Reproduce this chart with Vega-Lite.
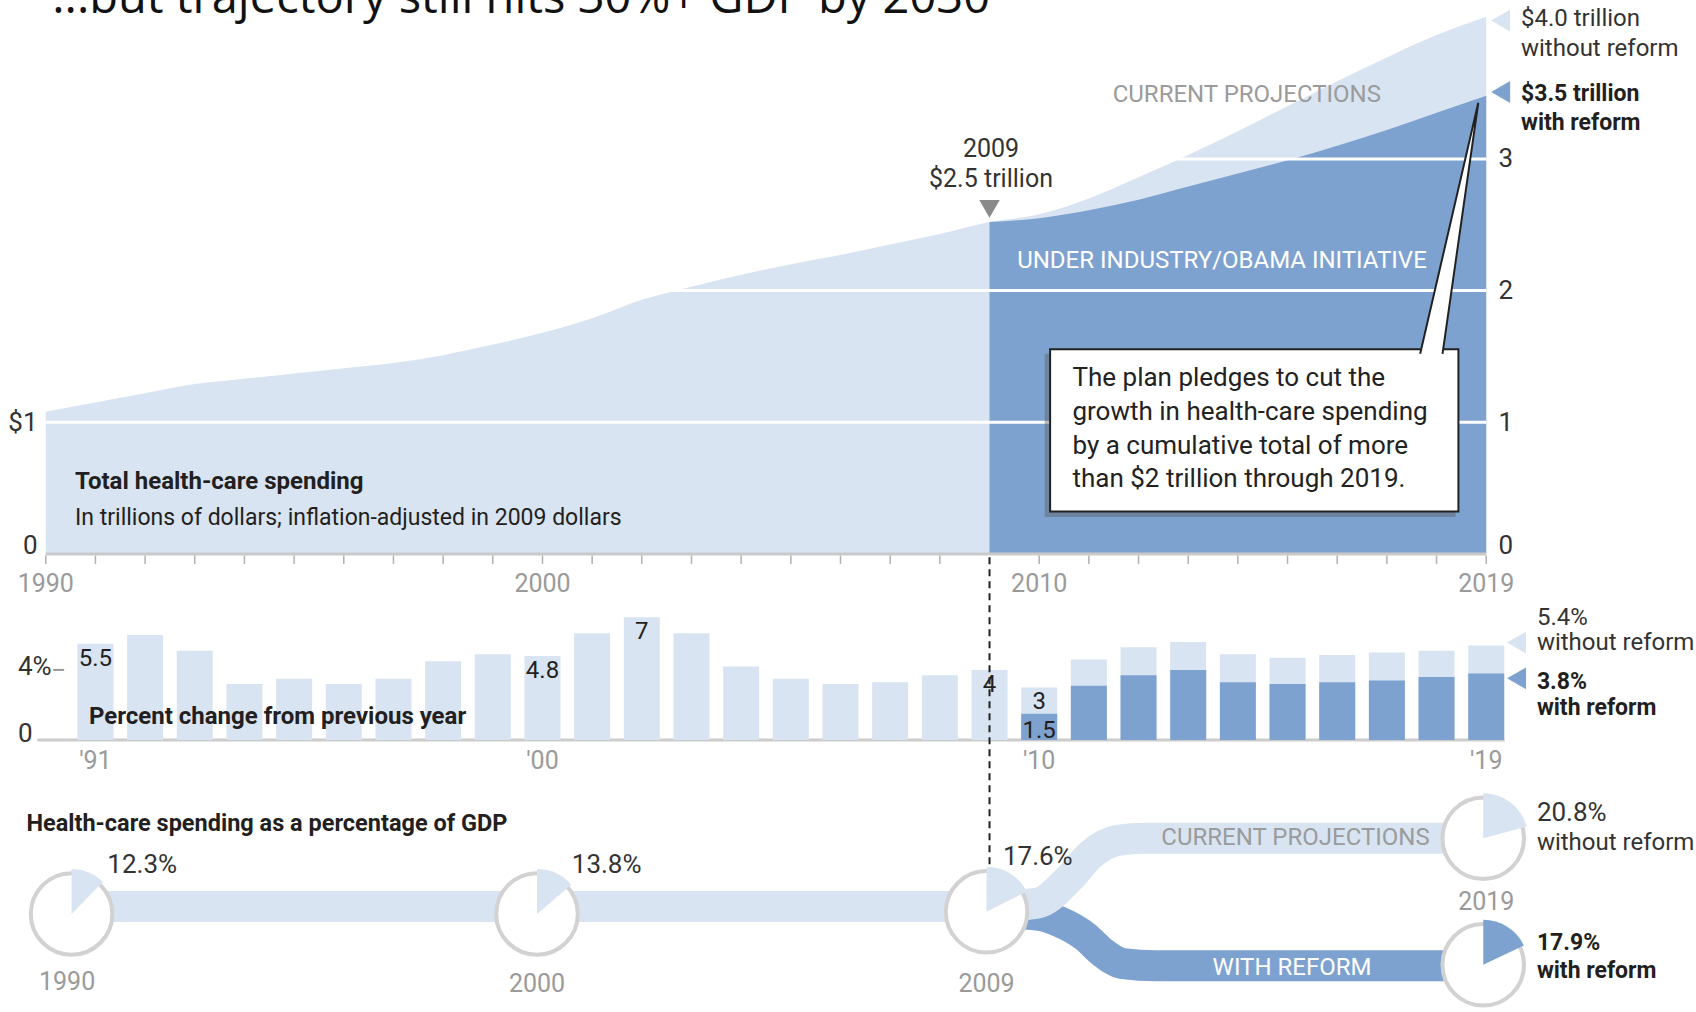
{
  "$schema": "https://vega.github.io/schema/vega-lite/v6.json",
  "width": 1696,
  "height": 1012,
  "autosize": {"type": "none"},
  "padding": 0,
  "background": "white",
  "config": {
    "view": {"stroke": null},
    "text": {"font": "Roboto", "color": "#231f20"},
    "axis": {"labelFont": "Roboto"}
  },
  "resolve": {"scale": {"y": "independent"}},
  "layer": [
    {
      "resolve": {"axis": {"y": "independent"}},
      "layer": [
        {
          "data": {"values": [
            {"year": 1990, "total": 1.08}, {"year": 1991, "total": 1.15}, {"year": 1992, "total": 1.22},
            {"year": 1993, "total": 1.29}, {"year": 1994, "total": 1.33}, {"year": 1995, "total": 1.37},
            {"year": 1996, "total": 1.41}, {"year": 1997, "total": 1.45}, {"year": 1998, "total": 1.51},
            {"year": 1999, "total": 1.59}, {"year": 2000, "total": 1.68}, {"year": 2001, "total": 1.79},
            {"year": 2002, "total": 1.93}, {"year": 2003, "total": 2.03}, {"year": 2004, "total": 2.12},
            {"year": 2005, "total": 2.20}, {"year": 2006, "total": 2.27}, {"year": 2007, "total": 2.35},
            {"year": 2008, "total": 2.43}, {"year": 2009, "total": 2.52}, {"year": 2010, "total": 2.58},
            {"year": 2011, "total": 2.70}, {"year": 2012, "total": 2.86}, {"year": 2013, "total": 3.03},
            {"year": 2014, "total": 3.21}, {"year": 2015, "total": 3.40}, {"year": 2016, "total": 3.59},
            {"year": 2017, "total": 3.77}, {"year": 2018, "total": 3.94}, {"year": 2019, "total": 4.08}
          ]},
          "mark": {"type": "area", "color": "#d9e4f2", "interpolate": "monotone", "orient": "vertical"},
          "encoding": {
            "x": {
              "field": "year", "type": "quantitative",
              "scale": {"domain": [1989.1795, 2023.1225], "nice": false, "zero": false},
              "axis": null
            },
            "y": {
              "field": "total", "type": "quantitative",
              "scale": {"domain": [-3.4776, 4.2065], "nice": false, "zero": false},
              "axis": {
                "orient": "left", "offset": -40, "title": null, "grid": false, "domain": false,
                "ticks": false, "tickSize": 0, "values": [0, 1],
                "labelExpr": "datum.value == 1 ? '$1' : '0'",
                "labelPadding": 3, "labelFontSize": 26, "labelColor": "#333333",
                "labelBaseline": {"condition": {"test": "datum.value == 0", "value": "alphabetic"}, "value": "middle"}
              }
            },
            "y2": {"datum": 0}
          }
        },
        {
          "data": {"values": [
            {"year": 2009, "reform": 2.52}, {"year": 2010, "reform": 2.55}, {"year": 2011, "reform": 2.61},
            {"year": 2012, "reform": 2.69}, {"year": 2013, "reform": 2.79}, {"year": 2014, "reform": 2.89},
            {"year": 2015, "reform": 2.99}, {"year": 2016, "reform": 3.10}, {"year": 2017, "reform": 3.22},
            {"year": 2018, "reform": 3.35}, {"year": 2019, "reform": 3.48}
          ]},
          "mark": {"type": "area", "color": "#7ea2cf", "interpolate": "monotone", "orient": "vertical"},
          "encoding": {
            "x": {"field": "year", "type": "quantitative", "axis": null},
            "y": {
              "field": "reform", "type": "quantitative",
              "axis": {
                "orient": "right", "offset": -204, "title": null, "grid": false, "domain": false,
                "ticks": false, "tickSize": 0, "values": [0, 1, 2, 3], "format": "d",
                "labelPadding": 6, "labelFontSize": 26, "labelColor": "#333333", "labelAlign": "left",
                "labelBaseline": {"condition": {"test": "datum.value == 0", "value": "alphabetic"}, "value": "middle"}
              }
            },
            "y2": {"datum": 0}
          }
        },
        {
          "data": {"values": [{"v": 1}, {"v": 2}, {"v": 3}]},
          "mark": {"type": "rule", "color": "white", "strokeWidth": 3},
          "encoding": {
            "x": {"datum": 1990, "type": "quantitative", "axis": null},
            "x2": {"datum": 2019},
            "y": {"field": "v", "type": "quantitative", "axis": null}
          }
        },
        {
          "data": {"values": [{"v": 0}]},
          "mark": {"type": "rule", "color": "#c9c9c9", "strokeWidth": 3},
          "encoding": {
            "x": {"datum": 1990, "type": "quantitative", "axis": null},
            "x2": {"datum": 2019},
            "y": {"field": "v", "type": "quantitative", "axis": null}
          }
        },
        {
          "data": {"values": [
            {"year": 1990}, {"year": 1991}, {"year": 1992}, {"year": 1993}, {"year": 1994}, {"year": 1995},
            {"year": 1996}, {"year": 1997}, {"year": 1998}, {"year": 1999}, {"year": 2000}, {"year": 2001},
            {"year": 2002}, {"year": 2003}, {"year": 2004}, {"year": 2005}, {"year": 2006}, {"year": 2007},
            {"year": 2008}, {"year": 2010}, {"year": 2011}, {"year": 2012}, {"year": 2013},
            {"year": 2014}, {"year": 2015}, {"year": 2016}, {"year": 2017}, {"year": 2018}, {"year": 2019}
          ]},
          "mark": {"type": "rule", "color": "#b0b0b0", "strokeWidth": 1.5},
          "encoding": {
            "x": {"field": "year", "type": "quantitative", "axis": null},
            "y": {"datum": -0.012, "type": "quantitative", "axis": null},
            "y2": {"datum": -0.075}
          }
        },
        {
          "data": {"values": [
            {"year": 1990, "label": "1990"}, {"year": 2000, "label": "2000"},
            {"year": 2010, "label": "2010"}, {"year": 2019, "label": "2019"}
          ]},
          "mark": {"type": "text", "align": "center", "baseline": "middle", "fontSize": 25, "color": "#9a9a9a"},
          "encoding": {
            "x": {"field": "year", "type": "quantitative", "axis": null},
            "y": {"datum": -0.228, "type": "quantitative", "axis": null},
            "text": {"field": "label"}
          }
        },
        {
          "data": {"values": [{"year": 1990.59, "v": 0.544, "label": "Total health-care spending"}]},
          "mark": {"type": "text", "align": "left", "baseline": "middle", "fontSize": 24, "fontWeight": "bold"},
          "encoding": {
            "x": {"field": "year", "type": "quantitative", "axis": null},
            "y": {"field": "v", "type": "quantitative", "axis": null},
            "text": {"field": "label"}
          }
        },
        {
          "data": {"values": [{"year": 1990.59, "v": 0.273, "label": "In trillions of dollars; inflation-adjusted in 2009 dollars"}]},
          "mark": {"type": "text", "align": "left", "baseline": "middle", "fontSize": 23},
          "encoding": {
            "x": {"field": "year", "type": "quantitative", "axis": null},
            "y": {"field": "v", "type": "quantitative", "axis": null},
            "text": {"field": "label"}
          }
        },
        {
          "data": {"values": [{"year": 2014.18, "v": 3.484, "label": "CURRENT PROJECTIONS"}]},
          "mark": {"type": "text", "align": "center", "baseline": "middle", "fontSize": 24, "color": "#9b9b9b"},
          "encoding": {
            "x": {"field": "year", "type": "quantitative", "axis": null},
            "y": {"field": "v", "type": "quantitative", "axis": null},
            "text": {"field": "label"}
          }
        },
        {
          "data": {"values": [
            {"year": 2009.03, "v": 3.073, "label": "2009"},
            {"year": 2009.03, "v": 2.851, "label": "$2.5 trillion"}
          ]},
          "mark": {"type": "text", "align": "center", "baseline": "middle", "fontSize": 25, "color": "#333333"},
          "encoding": {
            "x": {"field": "year", "type": "quantitative", "axis": null},
            "y": {"field": "v", "type": "quantitative", "axis": null},
            "text": {"field": "label"}
          }
        },
        {
          "data": {"values": [{"year": 2009, "v": 2.621}]},
          "mark": {"type": "point", "shape": "triangle-down", "filled": true, "size": 420, "color": "#8a8a8a", "opacity": 1},
          "encoding": {
            "x": {"field": "year", "type": "quantitative", "axis": null},
            "y": {"field": "v", "type": "quantitative", "axis": null}
          }
        },
        {
          "data": {"values": [{"year": 2013.68, "v": 2.227, "label": "UNDER INDUSTRY/OBAMA INITIATIVE"}]},
          "mark": {"type": "text", "align": "center", "baseline": "middle", "fontSize": 24, "color": "white"},
          "encoding": {
            "x": {"field": "year", "type": "quantitative", "axis": null},
            "y": {"field": "v", "type": "quantitative", "axis": null},
            "text": {"field": "label"}
          }
        },
        {
          "data": {"values": [{"x0": 2010.11, "x1": 2018.38, "y0": 1.52, "y1": 0.28}]},
          "mark": {"type": "rect", "color": "#555555", "opacity": 0.4},
          "encoding": {
            "x": {"field": "x0", "type": "quantitative", "axis": null},
            "x2": {"field": "x1"},
            "y": {"field": "y0", "type": "quantitative", "axis": null},
            "y2": {"field": "y1"}
          }
        },
        {
          "data": {"values": [{"x0": 2010.22, "x1": 2018.44, "y0": 1.554, "y1": 0.322}]},
          "mark": {"type": "rect", "fill": "white", "stroke": "#222222", "strokeWidth": 2},
          "encoding": {
            "x": {"field": "x0", "type": "quantitative", "axis": null},
            "x2": {"field": "x1"},
            "y": {"field": "y0", "type": "quantitative", "axis": null},
            "y2": {"field": "y1"}
          }
        },
        {
          "data": {"values": [
            {"i": 0, "year": 2017.67, "v": 1.52},
            {"i": 1, "year": 2018.84, "v": 3.426},
            {"i": 2, "year": 2018.12, "v": 1.52}
          ]},
          "mark": {"type": "line", "fill": "white", "stroke": "#222222", "strokeWidth": 2, "interpolate": "linear"},
          "encoding": {
            "x": {"field": "year", "type": "quantitative", "axis": null},
            "y": {"field": "v", "type": "quantitative", "axis": null},
            "order": {"field": "i", "type": "quantitative"}
          }
        },
        {
          "data": {"values": [
            {"year": 2010.67, "v": 1.340, "label": "The plan pledges to cut the"},
            {"year": 2010.67, "v": 1.077, "label": "growth in health-care spending"},
            {"year": 2010.67, "v": 0.823, "label": "by a cumulative total of more"},
            {"year": 2010.67, "v": 0.568, "label": "than $2 trillion through 2019."}
          ]},
          "mark": {"type": "text", "align": "left", "baseline": "middle", "fontSize": 26, "color": "#222222"},
          "encoding": {
            "x": {"field": "year", "type": "quantitative", "axis": null},
            "y": {"field": "v", "type": "quantitative", "axis": null},
            "text": {"field": "label"}
          }
        },
        {
          "data": {"values": [{"year": 2019.29, "v": 4.05}]},
          "mark": {"type": "point", "shape": "triangle-left", "filled": true, "size": 480, "color": "#d9e4f2", "opacity": 1},
          "encoding": {
            "x": {"field": "year", "type": "quantitative", "axis": null},
            "y": {"field": "v", "type": "quantitative", "axis": null}
          }
        },
        {
          "data": {"values": [{"year": 2019.29, "v": 3.508}]},
          "mark": {"type": "point", "shape": "triangle-left", "filled": true, "size": 480, "color": "#7ea2cf", "opacity": 1},
          "encoding": {
            "x": {"field": "year", "type": "quantitative", "axis": null},
            "y": {"field": "v", "type": "quantitative", "axis": null}
          }
        },
        {
          "data": {"values": [
            {"year": 2019.70, "v": 4.059, "label": "$4.0 trillion"},
            {"year": 2019.70, "v": 3.837, "label": "without reform"}
          ]},
          "mark": {"type": "text", "align": "left", "baseline": "middle", "fontSize": 24, "color": "#333333"},
          "encoding": {
            "x": {"field": "year", "type": "quantitative", "axis": null},
            "y": {"field": "v", "type": "quantitative", "axis": null},
            "text": {"field": "label"}
          }
        },
        {
          "data": {"values": [
            {"year": 2019.70, "v": 3.492, "label": "$3.5 trillion"},
            {"year": 2019.70, "v": 3.270, "label": "with reform"}
          ]},
          "mark": {"type": "text", "align": "left", "baseline": "middle", "fontSize": 23, "fontWeight": "bold", "color": "#231f20"},
          "encoding": {
            "x": {"field": "year", "type": "quantitative", "axis": null},
            "y": {"field": "v", "type": "quantitative", "axis": null},
            "text": {"field": "label"}
          }
        },
        {
          "data": {"values": [{"year": 1990.13, "v": 4.108, "label": "...but trajectory still hits 30%+ GDP by 2030"}]},
          "mark": {"type": "text", "align": "left", "baseline": "alphabetic", "fontSize": 47, "font": "Open Sans", "color": "#111111"},
          "encoding": {
            "x": {"field": "year", "type": "quantitative", "axis": null},
            "y": {"field": "v", "type": "quantitative", "axis": null},
            "text": {"field": "label"}
          }
        }
      ]
    },
    {
      "layer": [
        {
          "data": {"values": [{"v": 0}]},
          "mark": {"type": "rule", "color": "#cccccc", "strokeWidth": 3},
          "encoding": {
            "x": {"datum": 1989.83, "type": "quantitative", "axis": null},
            "x2": {"datum": 2019.37},
            "y": {"field": "v", "type": "quantitative", "axis": null, "scale": {"domain": [-15.525, 42.238], "nice": false, "zero": false}}
          }
        },
        {
          "data": {"values": [
            {"year": 1991, "total": 5.5}, {"year": 1992, "total": 6.0}, {"year": 1993, "total": 5.1},
            {"year": 1994, "total": 3.2}, {"year": 1995, "total": 3.5}, {"year": 1996, "total": 3.2},
            {"year": 1997, "total": 3.5}, {"year": 1998, "total": 4.5}, {"year": 1999, "total": 4.9},
            {"year": 2000, "total": 4.8}, {"year": 2001, "total": 6.1}, {"year": 2002, "total": 7.0},
            {"year": 2003, "total": 6.1}, {"year": 2004, "total": 4.2}, {"year": 2005, "total": 3.5},
            {"year": 2006, "total": 3.2}, {"year": 2007, "total": 3.3}, {"year": 2008, "total": 3.7},
            {"year": 2009, "total": 4.0}, {"year": 2010, "total": 3.0, "reform": 1.5},
            {"year": 2011, "total": 4.6, "reform": 3.1}, {"year": 2012, "total": 5.3, "reform": 3.7},
            {"year": 2013, "total": 5.6, "reform": 4.0}, {"year": 2014, "total": 4.9, "reform": 3.3},
            {"year": 2015, "total": 4.7, "reform": 3.2}, {"year": 2016, "total": 4.85, "reform": 3.3},
            {"year": 2017, "total": 5.0, "reform": 3.4}, {"year": 2018, "total": 5.1, "reform": 3.6},
            {"year": 2019, "total": 5.4, "reform": 3.8}
          ]},
          "layer": [
            {
              "mark": {"type": "bar", "size": 36, "color": "#d9e4f2", "orient": "vertical"},
              "encoding": {
                "x": {"field": "year", "type": "quantitative", "axis": null},
                "y": {"field": "total", "type": "quantitative", "axis": null},
                "y2": {"datum": 0}
              }
            },
            {
              "transform": [{"filter": "isValid(datum.reform)"}],
              "mark": {"type": "bar", "size": 36, "color": "#7ea2cf", "orient": "vertical"},
              "encoding": {
                "x": {"field": "year", "type": "quantitative", "axis": null},
                "y": {"field": "reform", "type": "quantitative", "axis": null},
                "y2": {"datum": 0}
              }
            }
          ]
        },
        {
          "data": {"values": [
            {"year": 1991, "v": 5.5, "label": "5.5"},
            {"year": 2000, "v": 4.8, "label": "4.8"},
            {"year": 2002, "v": 7.0, "label": "7"},
            {"year": 2009, "v": 4.0, "label": "4"},
            {"year": 2010, "v": 3.0, "label": "3"}
          ]},
          "mark": {"type": "text", "align": "center", "baseline": "top", "dy": 3, "fontSize": 24, "color": "#231f20"},
          "encoding": {
            "x": {"field": "year", "type": "quantitative", "axis": null},
            "y": {"field": "v", "type": "quantitative", "axis": null},
            "text": {"field": "label"}
          }
        },
        {
          "data": {"values": [{"year": 2010, "v": 1.5, "label": "1.5"}]},
          "mark": {"type": "text", "align": "center", "baseline": "top", "dy": 5, "fontSize": 24, "color": "#231f20"},
          "encoding": {
            "x": {"field": "year", "type": "quantitative", "axis": null},
            "y": {"field": "v", "type": "quantitative", "axis": null},
            "text": {"field": "label"}
          }
        },
        {
          "data": {"values": [
            {"year": 1989.44, "v": 4.14, "label": "4%"},
            {"year": 1989.44, "v": 0.37, "label": "0"}
          ]},
          "mark": {"type": "text", "align": "left", "baseline": "middle", "fontSize": 26, "color": "#333333"},
          "encoding": {
            "x": {"field": "year", "type": "quantitative", "axis": null},
            "y": {"field": "v", "type": "quantitative", "axis": null},
            "text": {"field": "label"}
          }
        },
        {
          "data": {"values": [{"v": 4}]},
          "mark": {"type": "rule", "color": "#999999", "strokeWidth": 2},
          "encoding": {
            "x": {"datum": 1990.15, "type": "quantitative", "axis": null},
            "x2": {"datum": 1990.37},
            "y": {"field": "v", "type": "quantitative", "axis": null}
          }
        },
        {
          "data": {"values": [
            {"year": 1991, "v": -1.22, "label": "'91"},
            {"year": 2000, "v": -1.22, "label": "'00"},
            {"year": 2010, "v": -1.22, "label": "'10"},
            {"year": 2019, "v": -1.22, "label": "'19"}
          ]},
          "mark": {"type": "text", "align": "center", "baseline": "middle", "fontSize": 25, "color": "#9a9a9a"},
          "encoding": {
            "x": {"field": "year", "type": "quantitative", "axis": null},
            "y": {"field": "v", "type": "quantitative", "axis": null},
            "text": {"field": "label"}
          }
        },
        {
          "data": {"values": [{"year": 1990.87, "v": 1.30, "label": "Percent change from previous year"}]},
          "mark": {"type": "text", "align": "left", "baseline": "middle", "fontSize": 24, "fontWeight": "bold", "color": "#231f20"},
          "encoding": {
            "x": {"field": "year", "type": "quantitative", "axis": null},
            "y": {"field": "v", "type": "quantitative", "axis": null},
            "text": {"field": "label"}
          }
        },
        {
          "data": {"values": [{"year": 2019.61, "v": 5.56}]},
          "mark": {"type": "point", "shape": "triangle-left", "filled": true, "size": 480, "color": "#d9e4f2", "opacity": 1},
          "encoding": {
            "x": {"field": "year", "type": "quantitative", "axis": null},
            "y": {"field": "v", "type": "quantitative", "axis": null}
          }
        },
        {
          "data": {"values": [{"year": 2019.61, "v": 3.52}]},
          "mark": {"type": "point", "shape": "triangle-left", "filled": true, "size": 480, "color": "#7ea2cf", "opacity": 1},
          "encoding": {
            "x": {"field": "year", "type": "quantitative", "axis": null},
            "y": {"field": "v", "type": "quantitative", "axis": null}
          }
        },
        {
          "data": {"values": [
            {"year": 2020.02, "v": 6.98, "label": "5.4%"},
            {"year": 2020.02, "v": 5.56, "label": "without reform"}
          ]},
          "mark": {"type": "text", "align": "left", "baseline": "middle", "fontSize": 24, "color": "#333333"},
          "encoding": {
            "x": {"field": "year", "type": "quantitative", "axis": null},
            "y": {"field": "v", "type": "quantitative", "axis": null},
            "text": {"field": "label"}
          }
        },
        {
          "data": {"values": [
            {"year": 2020.02, "v": 3.33, "label": "3.8%"},
            {"year": 2020.02, "v": 1.85, "label": "with reform"}
          ]},
          "mark": {"type": "text", "align": "left", "baseline": "middle", "fontSize": 23, "fontWeight": "bold", "color": "#231f20"},
          "encoding": {
            "x": {"field": "year", "type": "quantitative", "axis": null},
            "y": {"field": "v", "type": "quantitative", "axis": null},
            "text": {"field": "label"}
          }
        },
        {
          "data": {"values": [{"year": 2009, "top": 10.43, "bottom": -7.14}]},
          "mark": {"type": "rule", "color": "#222222", "strokeWidth": 2, "strokeDash": [7, 5]},
          "encoding": {
            "x": {"field": "year", "type": "quantitative", "axis": null},
            "y": {"field": "top", "type": "quantitative", "axis": null},
            "y2": {"field": "bottom"}
          }
        }
      ]
    },
    {
      "layer": [
        {
          "data": {"values": [
            {"year": 2009.0, "t": -0.1}, {"year": 2010.0, "t": -0.15}, {"year": 2010.39, "t": -0.25},
            {"year": 2010.93, "t": -0.505}, {"year": 2011.26, "t": -0.757}, {"year": 2011.69, "t": -0.955},
            {"year": 2012.34, "t": -0.99}, {"year": 2018.94, "t": -0.99}
          ]},
          "mark": {"type": "line", "color": "#7ea2cf", "strokeWidth": 31, "strokeCap": "butt", "interpolate": "monotone"},
          "encoding": {
            "x": {"field": "year", "type": "quantitative", "axis": null},
            "y": {"field": "t", "type": "quantitative", "axis": null, "scale": {"domain": [-1.76, 15.1067], "nice": false, "zero": false}}
          }
        },
        {
          "data": {"values": [
            {"year": 1990.5, "t": 0}, {"year": 2009.0, "t": 0}, {"year": 2009.96, "t": 0.054},
            {"year": 2010.61, "t": 0.469}, {"year": 2011.04, "t": 0.865}, {"year": 2011.58, "t": 1.10},
            {"year": 2012.12, "t": 1.136}, {"year": 2018.94, "t": 1.136}
          ]},
          "mark": {"type": "line", "color": "#d9e4f2", "strokeWidth": 31, "strokeCap": "butt", "interpolate": "monotone"},
          "encoding": {
            "x": {"field": "year", "type": "quantitative", "axis": null},
            "y": {"field": "t", "type": "quantitative", "axis": null}
          }
        },
        {
          "data": {"values": [
            {"year": 1990.52, "t": -0.126, "pct": 12.3, "series": "Current projections"},
            {"year": 1999.89, "t": -0.126, "pct": 13.8, "series": "Current projections"},
            {"year": 2008.94, "t": -0.09, "pct": 17.6, "series": "Current projections"},
            {"year": 2018.94, "t": 1.136, "pct": 20.8, "series": "Current projections"},
            {"year": 2018.94, "t": -0.974, "pct": 17.9, "series": "With reform"}
          ]},
          "layer": [
            {
              "mark": {"type": "point", "shape": "circle", "filled": true, "size": 6648, "fill": "white", "stroke": "#d2d2d2", "strokeWidth": 4, "opacity": 1},
              "encoding": {
                "x": {"field": "year", "type": "quantitative", "axis": null},
                "y": {"field": "t", "type": "quantitative", "axis": null}
              }
            },
            {
              "mark": {"type": "arc", "radius": 45},
              "encoding": {
                "x": {"field": "year", "type": "quantitative", "axis": null},
                "y": {"field": "t", "type": "quantitative", "axis": null},
                "theta": {"field": "pct", "type": "quantitative", "stack": false, "scale": {"domain": [0, 100], "range": [0, 6.283185]}},
                "theta2": {"datum": 0},
                "color": {"field": "series", "type": "nominal", "scale": {"domain": ["Current projections", "With reform"], "range": ["#d9e4f2", "#7ea2cf"]}, "legend": null}
              }
            }
          ]
        },
        {
          "data": {"values": [{"year": 1989.61, "t": 1.37, "label": "Health-care spending as a percentage of GDP"}]},
          "mark": {"type": "text", "align": "left", "baseline": "middle", "fontSize": 23.5, "fontWeight": "bold", "color": "#231f20"},
          "encoding": {
            "x": {"field": "year", "type": "quantitative", "axis": null},
            "y": {"field": "t", "type": "quantitative", "axis": null},
            "text": {"field": "label"}
          }
        },
        {
          "data": {"values": [
            {"year": 1991.24, "t": 0.685, "label": "12.3%"},
            {"year": 2000.59, "t": 0.685, "label": "13.8%"},
            {"year": 2009.27, "t": 0.829, "label": "17.6%"},
            {"year": 2020.02, "t": 1.551, "label": "20.8%"}
          ]},
          "mark": {"type": "text", "align": "left", "baseline": "middle", "fontSize": 26, "color": "#333333"},
          "encoding": {
            "x": {"field": "year", "type": "quantitative", "axis": null},
            "y": {"field": "t", "type": "quantitative", "axis": null},
            "text": {"field": "label"}
          }
        },
        {
          "data": {"values": [{"year": 2020.02, "t": 1.064, "label": "without reform"}]},
          "mark": {"type": "text", "align": "left", "baseline": "middle", "fontSize": 24, "color": "#333333"},
          "encoding": {
            "x": {"field": "year", "type": "quantitative", "axis": null},
            "y": {"field": "t", "type": "quantitative", "axis": null},
            "text": {"field": "label"}
          }
        },
        {
          "data": {"values": [
            {"year": 2020.02, "t": -0.613, "label": "17.9%"},
            {"year": 2020.02, "t": -1.082, "label": "with reform"}
          ]},
          "mark": {"type": "text", "align": "left", "baseline": "middle", "fontSize": 23, "fontWeight": "bold", "color": "#231f20"},
          "encoding": {
            "x": {"field": "year", "type": "quantitative", "axis": null},
            "y": {"field": "t", "type": "quantitative", "axis": null},
            "text": {"field": "label"}
          }
        },
        {
          "data": {"values": [
            {"year": 1990.43, "t": -1.262, "label": "1990"},
            {"year": 1999.89, "t": -1.298, "label": "2000"},
            {"year": 2008.94, "t": -1.298, "label": "2009"},
            {"year": 2019.0, "t": 0.072, "label": "2019"}
          ]},
          "mark": {"type": "text", "align": "center", "baseline": "middle", "fontSize": 25, "color": "#9a9a9a"},
          "encoding": {
            "x": {"field": "year", "type": "quantitative", "axis": null},
            "y": {"field": "t", "type": "quantitative", "axis": null},
            "text": {"field": "label"}
          }
        },
        {
          "data": {"values": [{"year": 2015.16, "t": 1.136, "label": "CURRENT PROJECTIONS"}]},
          "mark": {"type": "text", "align": "center", "baseline": "middle", "fontSize": 24, "color": "#9b9b9b"},
          "encoding": {
            "x": {"field": "year", "type": "quantitative", "axis": null},
            "y": {"field": "t", "type": "quantitative", "axis": null},
            "text": {"field": "label"}
          }
        },
        {
          "data": {"values": [{"year": 2015.09, "t": -1.028, "label": "WITH REFORM"}]},
          "mark": {"type": "text", "align": "center", "baseline": "middle", "fontSize": 24, "color": "white"},
          "encoding": {
            "x": {"field": "year", "type": "quantitative", "axis": null},
            "y": {"field": "t", "type": "quantitative", "axis": null},
            "text": {"field": "label"}
          }
        }
      ]
    }
  ]
}
